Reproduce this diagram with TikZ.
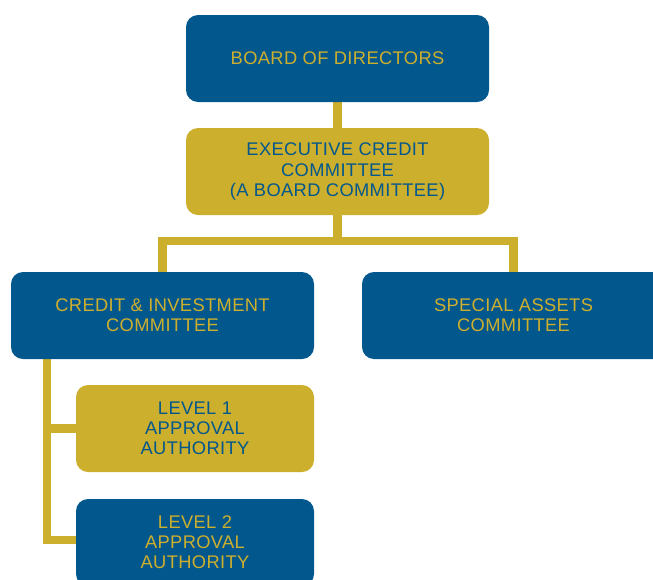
\documentclass[tikz,border=0pt]{standalone}
\usepackage{fontspec}
\setmainfont{Liberation Sans}[LetterSpace=2]
\usetikzlibrary{backgrounds}
\definecolor{navy}{HTML}{02578C}
\definecolor{gold}{HTML}{CDAF2E}
\tikzset{
  box/.style={rounded corners=12pt, minimum height=87pt, align=center,
    font=\fontsize{18.3}{20}\selectfont, inner sep=0pt},
  bluebox/.style={box, fill=navy, text=gold},
  goldbox/.style={box, fill=gold, text=navy},
  link/.style={draw=gold, line width=8.5pt}
}
\begin{document}
\begin{tikzpicture}[x=1pt,y=-1pt]
        \useasboundingbox (0,0) rectangle (653,579);
        \clip (0,0) rectangle (653,579);
        \node[bluebox, minimum width=303pt] (board) at (337.5, 58.5) {BOARD OF DIRECTORS};
        \node[goldbox, minimum width=303pt] (exec) at (337.5, 171.5) {EXECUTIVE CREDIT\\COMMITTEE\\(A BOARD COMMITTEE)};
        \node[bluebox, minimum width=303pt] (credit) at (162.5, 315.5) {CREDIT \& INVESTMENT\\COMMITTEE};
        \node[bluebox, minimum width=303pt] (special) at (513.5, 315.5) {SPECIAL ASSETS\\COMMITTEE};
        \node[goldbox, minimum width=238pt] (level1) at (195, 428.5) {LEVEL 1\\APPROVAL\\AUTHORITY};
        \node[bluebox, minimum width=238pt] (level2) at (195, 542.5) {LEVEL 2\\APPROVAL\\AUTHORITY};
        \coordinate (J) at (337.5, 241);
        \coordinate (bend) at (47, 540);
        \begin{scope}[on background layer]
        \draw[link] (board)--(exec)--(J);
        \draw[link] (credit) |- (J) -| (special);
        \draw[link] (credit.south -| bend)--(bend)--(bend -| level2.west);
        \draw[link] (level1.west -| bend)--(level1.west);
        \end{scope}
    \end{tikzpicture}
\end{document}
